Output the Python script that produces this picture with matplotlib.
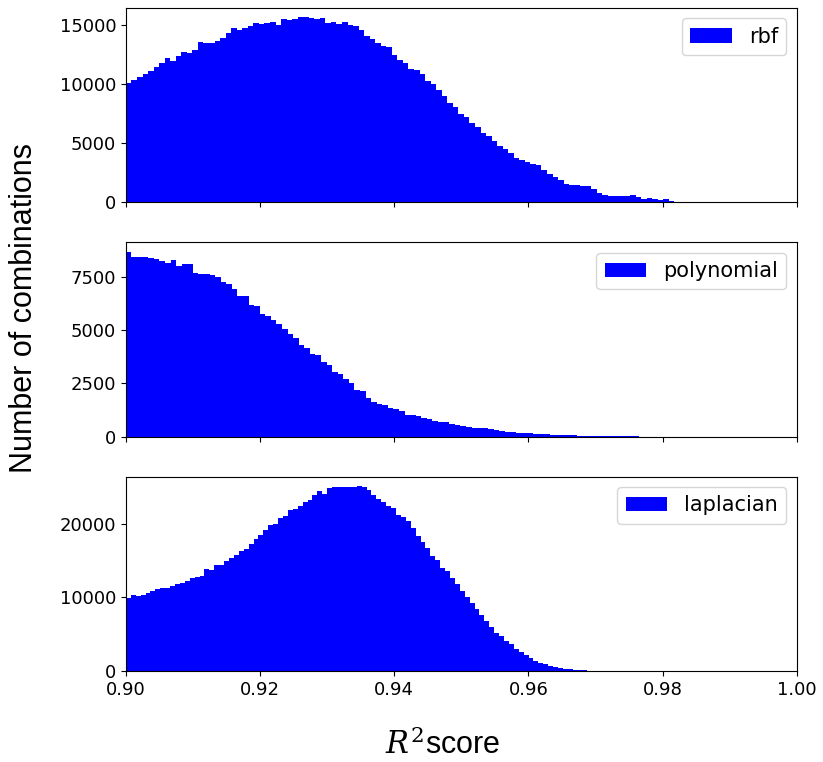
import numpy as np
import matplotlib
matplotlib.use('Agg')
import matplotlib.pyplot as plt
from matplotlib.ticker import MultipleLocator

plt.rcParams['mathtext.fontset'] = 'dejavuserif'

# Histogram counts per bin, each kernel binned into 100 equal bins
# over [0.90, upper] where upper is the largest R^2 seen for that kernel
rbf_counts = [
    10120, 10380, 10600, 10830, 11080, 11440, 11780, 12200, 11950, 12370,
    12730, 12650, 12900, 13540, 13460, 13490, 13680, 13910, 14350, 14720,
    14630, 14770, 14970, 15220, 15140, 15200, 15250, 15020, 15500, 15420,
    15560, 15670, 15660, 15640, 15500, 15590, 15170, 15310, 15080, 15230,
    15000, 14890, 14610, 14050, 13820, 13460, 13210, 13180, 12500, 12060,
    11810, 11300, 11240, 10880, 10240, 10040, 9540, 9010, 8450, 8030,
    7520, 7240, 6680, 6340, 5900, 5600, 5200, 4800, 4500, 4160,
    3740, 3600, 3400, 3240, 3130, 2760, 2400, 2140, 1870, 1550,
    1440, 1440, 1350, 1350, 1130, 800, 660, 570, 520, 520,
    520, 600, 460, 290, 350, 290, 180, 240, 100, 30,
]
poly_counts = [
    8700, 8460, 8460, 8450, 8420, 8360, 8260, 8150, 8310, 8000,
    8120, 8140, 7690, 7670, 7670, 7590, 7490, 7270, 7190, 6960,
    6600, 6630, 6180, 6150, 5780, 5670, 5470, 5280, 5060, 4810,
    4630, 4300, 4190, 3880, 3860, 3490, 3390, 3030, 2950, 2720,
    2520, 2210, 2130, 1830, 1630, 1520, 1480, 1370, 1320, 1210,
    1040, 1010, 980, 890, 820, 730, 700, 670, 590, 570,
    500, 470, 430, 420, 390, 340, 300, 270, 240, 210,
    190, 170, 150, 140, 120, 110, 100, 90, 80, 70,
    60, 50, 45, 40, 35, 30, 25, 20, 15, 12,
    10, 8, 6, 5, 4, 3, 2, 2, 1, 1,
]
lap_counts = [
    9950, 10350, 10260, 10400, 10670, 10850, 11160, 11300, 11300, 11610,
    11840, 11930, 12290, 12650, 12830, 12960, 13860, 13730, 14450, 14400,
    14900, 15350, 15750, 16340, 16650, 17330, 17910, 18450, 19130, 19850,
    20030, 20840, 21060, 21830, 21960, 22410, 23020, 23310, 23900, 24440,
    24080, 24890, 25020, 25020, 25020, 25020, 25020, 25160, 25020, 24570,
    23990, 23450, 22950, 22500, 22190, 21200, 20930, 20390, 19490, 18360,
    17550, 16790, 15660, 15080, 13950, 13640, 12650, 11840, 10940, 10130,
    9230, 8370, 7650, 6850, 5990, 5200, 4770, 4100, 3740, 3060,
    2610, 2160, 1710, 1400, 1130, 900, 680, 500, 360, 270,
    225, 180, 135, 90, 60, 40, 25, 15, 8, 4,
]

kernels = ['rbf', 'polynomial', 'laplacian']
counts = [rbf_counts, poly_counts, lap_counts]
r2_lower = 0.90
r2_upper = [0.9826, 0.9831, 0.9732]
ytick_step = [5000, 2500, 10000]

fig, axes = plt.subplots(3, 1, figsize=(8.23, 7.62), dpi=100, sharex=True)
fig.subplots_adjust(left=0.153, right=0.968, top=0.9895, bottom=0.1194,
                    hspace=0.206)

for ax, name, c, hi, step in zip(axes, kernels, counts, r2_upper, ytick_step):
    edges = np.linspace(r2_lower, hi, len(c) + 1)
    ax.hist(edges[:-1], bins=edges, weights=c, color='blue', label=name)
    ax.yaxis.set_major_locator(MultipleLocator(step))
    ax.legend(loc='upper right', fontsize=15)
    ax.tick_params(labelsize=13)

axes[-1].set_xlim(0.90, 1.00)
axes[-1].set_xticks(np.arange(0.90, 1.001, 0.02))
axes[-1].set_xlabel('$R^2$score', fontsize=22, family='Liberation Sans')
axes[-1].xaxis.set_label_coords(0.472, -0.30)

fig.text(24 / 823, 1 - 308 / 762, 'Number of combinations', rotation=90,
         fontsize=22, family='Liberation Sans', ha='center', va='center')

plt.savefig('out.png', dpi=100)
